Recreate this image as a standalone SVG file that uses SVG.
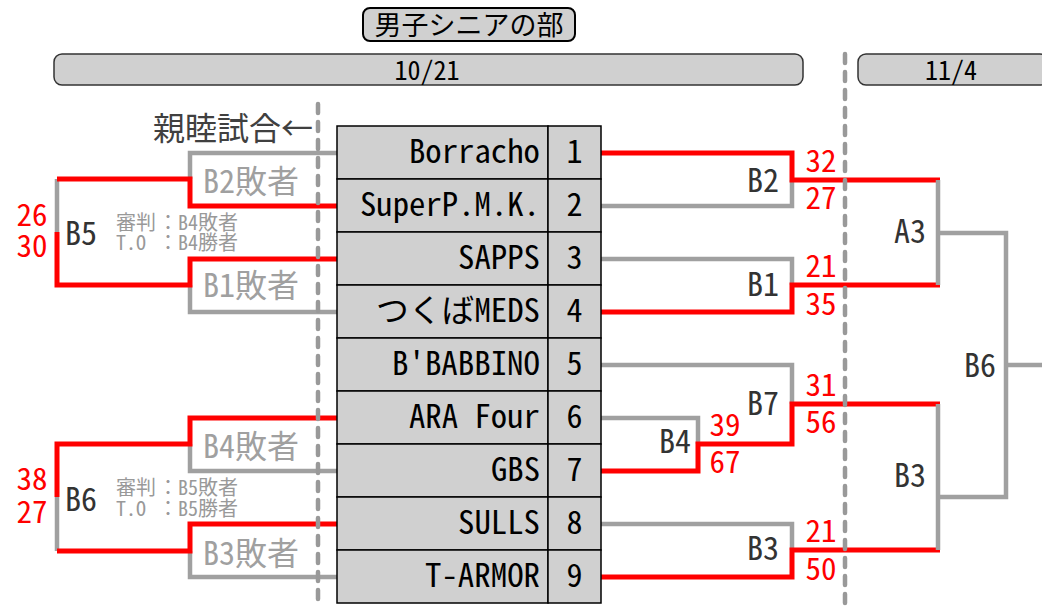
<svg xmlns="http://www.w3.org/2000/svg" width="1042" height="611" viewBox="0 0 1042 611">
<style>
text{font-family:"Noto Sans Mono CJK JP","Noto Sans CJK JP","DejaVu Sans",sans-serif}
.bar{fill:#d0d0d0;stroke:#333;stroke-width:1.5}
.cell{fill:#d0d0d0;stroke:#000;stroke-width:1.5}
.tn{font-size:32px;fill:#000;text-anchor:end}
.no{font-size:32px;fill:#000;text-anchor:middle}
.lbl{font-size:32px;fill:#333}
.sc{font-size:31px;fill:#f00;text-anchor:middle}
.ls{font-size:32px;fill:#a0a0a0}
.ref{font-size:20px;fill:#999}
.r{stroke:#f00;stroke-width:5;fill:none}
.g{stroke:#a0a0a0;stroke-width:4.5;fill:none}
.d{stroke:#999;stroke-width:4.5;fill:none;stroke-dasharray:9 9;stroke-linecap:round}
</style>
<rect width="1042" height="611" fill="#fff"/>
<g id="title">
<rect x="363" y="8" width="212" height="33" rx="7" fill="#d0d0d0" stroke="#000" stroke-width="2"/>
<text x="469" y="35" font-size="27" text-anchor="middle" fill="#000">男子シニアの部</text>
</g>
<g id="date1"><rect class="bar" x="54" y="54" width="749" height="31" rx="8"/><text x="427" y="80" font-size="26" text-anchor="middle" fill="#000">10/21</text></g>
<g id="date2"><rect class="bar" x="858" y="54" width="190" height="31" rx="8"/><text x="951" y="80" font-size="26" text-anchor="middle" fill="#000">11/4</text></g>
<g id="shinboku"><text x="153" y="140" font-size="32" fill="#404040">親睦試合←</text></g>

<g id="connectors">
<path class="g" d="M601,206H792V180"/>
<path class="r" d="M601,153H792V180H940"/>
<path class="g" d="M601,259H792V285"/>
<path class="r" d="M601,312H792V285H940"/>
<path class="g" d="M938,180V285M938,233H1006V497H938M1006,365H1042"/>
<path class="g" d="M601,365H792V404"/>
<path class="g" d="M601,418H698V444"/>
<path class="r" d="M601,471H698V444H792V404H940"/>
<path class="g" d="M601,524H792V550"/>
<path class="r" d="M601,577H792V550H940"/>
<path class="g" d="M938,404V550"/>
<path class="g" d="M337,153H190V179M57,179V232M337,312H190V285"/>
<path class="r" d="M337,206H190V179H57M57,232V285H190V259H337"/>
<path class="g" d="M337,471H190V444M57,497V551M337,577H190V551"/>
<path class="r" d="M337,418H190V444H57V497M57,551H190V524H337"/>
<path class="d" d="M318,104V605M845,54V605"/>
</g>

<g id="teams">
<rect class="cell" x="337" y="126" width="211" height="53"/><rect class="cell" x="548" y="126" width="53" height="53"/>
<rect class="cell" x="337" y="179" width="211" height="53"/><rect class="cell" x="548" y="179" width="53" height="53"/>
<rect class="cell" x="337" y="232" width="211" height="53"/><rect class="cell" x="548" y="232" width="53" height="53"/>
<rect class="cell" x="337" y="285" width="211" height="53"/><rect class="cell" x="548" y="285" width="53" height="53"/>
<rect class="cell" x="337" y="338" width="211" height="53"/><rect class="cell" x="548" y="338" width="53" height="53"/>
<rect class="cell" x="337" y="391" width="211" height="53"/><rect class="cell" x="548" y="391" width="53" height="53"/>
<rect class="cell" x="337" y="444" width="211" height="53"/><rect class="cell" x="548" y="444" width="53" height="53"/>
<rect class="cell" x="337" y="497" width="211" height="53"/><rect class="cell" x="548" y="497" width="53" height="53"/>
<rect class="cell" x="337" y="550" width="211" height="53"/><rect class="cell" x="548" y="550" width="53" height="53"/>
</g>
<g id="team1"><text class="tn" x="540" y="163" textLength="131" lengthAdjust="spacingAndGlyphs">Borracho</text><text class="no" x="574.5" y="163">1</text></g>
<g id="team2"><text class="tn" x="540" y="216" textLength="180" lengthAdjust="spacingAndGlyphs">SuperP.M.K.</text><text class="no" x="574.5" y="216">2</text></g>
<g id="team3"><text class="tn" x="540" y="269" textLength="82" lengthAdjust="spacingAndGlyphs">SAPPS</text><text class="no" x="574.5" y="269">3</text></g>
<g id="team4"><text class="tn" x="540" y="322" textLength="164" lengthAdjust="spacingAndGlyphs">つくばMEDS</text><text class="no" x="574.5" y="322">4</text></g>
<g id="team5"><text class="tn" x="540" y="375" textLength="148" lengthAdjust="spacingAndGlyphs">B'BABBINO</text><text class="no" x="574.5" y="375">5</text></g>
<g id="team6"><text class="tn" x="540" y="428" textLength="131" lengthAdjust="spacingAndGlyphs">ARA Four</text><text class="no" x="574.5" y="428">6</text></g>
<g id="team7"><text class="tn" x="540" y="481" textLength="49" lengthAdjust="spacingAndGlyphs">GBS</text><text class="no" x="574.5" y="481">7</text></g>
<g id="team8"><text class="tn" x="540" y="534" textLength="82" lengthAdjust="spacingAndGlyphs">SULLS</text><text class="no" x="574.5" y="534">8</text></g>
<g id="team9"><text class="tn" x="540" y="587" textLength="115" lengthAdjust="spacingAndGlyphs">T-ARMOR</text><text class="no" x="574.5" y="587">9</text></g>

<g id="B2"><text class="lbl" x="779" y="192" text-anchor="end">B2</text><text class="sc" x="821" y="172">32</text><text class="sc" x="821" y="209">27</text></g>
<g id="B1"><text class="lbl" x="779" y="296" text-anchor="end">B1</text><text class="sc" x="821" y="277">21</text><text class="sc" x="821" y="315">35</text></g>
<g id="A3"><text class="lbl" x="926" y="243" text-anchor="end">A3</text></g>
<g id="B6r"><text class="lbl" x="996" y="377" text-anchor="end">B6</text></g>
<g id="B7"><text class="lbl" x="779" y="415" text-anchor="end">B7</text><text class="sc" x="821" y="396">31</text><text class="sc" x="821" y="433">56</text></g>
<g id="B4"><text class="lbl" x="691" y="453" text-anchor="end">B4</text><text class="sc" x="725" y="436">39</text><text class="sc" x="725" y="473">67</text></g>
<g id="B3r"><text class="lbl" x="926" y="487" text-anchor="end">B3</text></g>
<g id="B3"><text class="lbl" x="779" y="560" text-anchor="end">B3</text><text class="sc" x="821" y="542">21</text><text class="sc" x="821" y="580">50</text></g>

<g id="B2loser"><text class="ls" x="203" y="193">B2敗者</text></g>
<g id="B1loser"><text class="ls" x="203" y="297">B1敗者</text></g>
<g id="B5"><text class="lbl" x="65" y="245">B5</text><text class="sc" x="32" y="226">26</text><text class="sc" x="32" y="257">30</text>
<text class="ref" y="230"><tspan x="116">審判</tspan><tspan x="158">：B4敗者</tspan></text>
<text class="ref" y="250"><tspan x="116">T.O</tspan><tspan x="158">：B4勝者</tspan></text></g>
<g id="B4loser"><text class="ls" x="203" y="458">B4敗者</text></g>
<g id="B3loser"><text class="ls" x="203" y="565">B3敗者</text></g>
<g id="B6l"><text class="lbl" x="65" y="511">B6</text><text class="sc" x="32" y="490">38</text><text class="sc" x="32" y="523">27</text>
<text class="ref" y="495"><tspan x="116">審判</tspan><tspan x="158">：B5敗者</tspan></text>
<text class="ref" y="516"><tspan x="116">T.O</tspan><tspan x="158">：B5勝者</tspan></text></g>
</svg>
